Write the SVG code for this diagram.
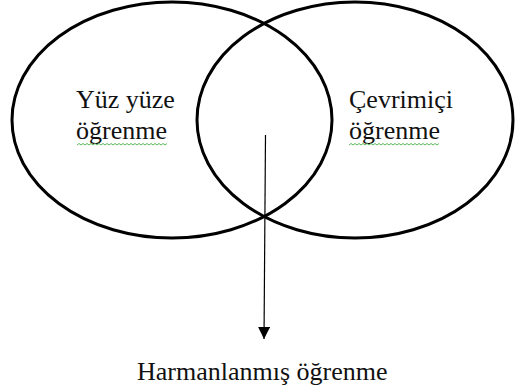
<svg xmlns="http://www.w3.org/2000/svg" width="515" height="392" viewBox="0 0 515 392">
<style>
.ell{fill:none;stroke:#000;stroke-width:3}
.lbl{font-family:"Liberation Serif","Times New Roman",serif;font-size:26px;fill:#111}
.conn{stroke:#000;stroke-width:1.2;fill:none}
.squig{fill:none;stroke:#5cb85c;stroke-width:1}
</style>
<defs>
<marker id="ah" markerWidth="12" markerHeight="14" refX="12" refY="6" orient="auto" markerUnits="userSpaceOnUse">
<path d="M0,0 L12,6 L0,12 Z" fill="#000"/>
</marker>
</defs>
<rect width="515" height="392" fill="#fff"/>
<g id="yuz-yuze">
<ellipse class="ell" cx="172" cy="120" rx="160" ry="118"/>
<text class="lbl" x="76" y="108">Yüz yüze</text>
<text class="lbl" x="76" y="139">öğrenme</text>
<path class="squig" d="M77,145 l2,-1.5 l2,1.5 l2,-1.5 l2,1.5 l2,-1.5 l2,1.5 l2,-1.5 l2,1.5 l2,-1.5 l2,1.5 l2,-1.5 l2,1.5 l2,-1.5 l2,1.5 l2,-1.5 l2,1.5 l2,-1.5 l2,1.5 l2,-1.5 l2,1.5 l2,-1.5 l2,1.5 l2,-1.5 l2,1.5 l2,-1.5 l2,1.5 l2,-1.5 l2,1.5 l2,-1.5 l2,1.5 l2,-1.5 l2,1.5 l2,-1.5 l2,1.5 l2,-1.5 l2,1.5 l2,-1.5 l2,1.5 l2,-1.5 l2,1.5 l2,-1.5 l2,1.5 l2,-1.5 l2,1.5 l2,-1.5"/>
</g>
<g id="cevrimici">
<ellipse class="ell" cx="355" cy="120" rx="158" ry="118"/>
<text class="lbl" x="349" y="108">Çevrimiçi</text>
<text class="lbl" x="349" y="139">öğrenme</text>
<path class="squig" d="M349,145 l2,-1.5 l2,1.5 l2,-1.5 l2,1.5 l2,-1.5 l2,1.5 l2,-1.5 l2,1.5 l2,-1.5 l2,1.5 l2,-1.5 l2,1.5 l2,-1.5 l2,1.5 l2,-1.5 l2,1.5 l2,-1.5 l2,1.5 l2,-1.5 l2,1.5 l2,-1.5 l2,1.5 l2,-1.5 l2,1.5 l2,-1.5 l2,1.5 l2,-1.5 l2,1.5 l2,-1.5 l2,1.5 l2,-1.5 l2,1.5 l2,-1.5 l2,1.5 l2,-1.5 l2,1.5 l2,-1.5 l2,1.5 l2,-1.5 l2,1.5 l2,-1.5 l2,1.5 l2,-1.5 l2,1.5 l2,-1.5"/>
</g>
<g id="harmanlanmis">
<text class="lbl" x="137" y="380">Harmanlanmış öğrenme</text>
</g>
<g id="connectors">
<line class="conn" x1="265.5" y1="135" x2="264" y2="339" marker-end="url(#ah)"/>
</g>
</svg>
